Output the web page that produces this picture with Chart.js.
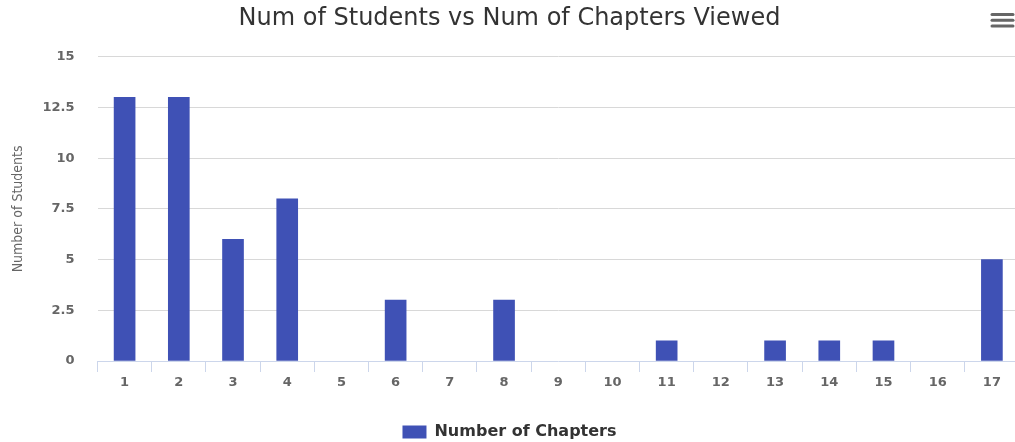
<!DOCTYPE html>
<html>
<head>
<meta charset="utf-8">
<script src="https://cdn.jsdelivr.net/npm/chart.js@4"></script>
<style>
  html, body { margin: 0; padding: 0; background: #fff; overflow: hidden; }
  #wrap { position: relative; width: 1019px; height: 442px; }
</style>
</head>
<body>
<div id="wrap"><canvas id="chaptersChart"></canvas></div>
<script>
const chapters = ["1", "2", "3", "4", "5", "6", "7", "8", "9", "10", "11", "12", "13", "14", "15", "16", "17"];
const students = [13, 13, 6, 8, 0, 3, 0, 3, 0, 0, 1, 0, 1, 1, 1, 0, 5];
const seriesName = "Number of Chapters";
const barColor = "#3f51b5";

// little menu icon in the top right corner
const menuIcon = {
    id: "menuIcon",
    afterDraw(chart) {
        const ctx = chart.ctx;
        ctx.save();
        ctx.strokeStyle = "#666";
        ctx.lineWidth = 3;
        ctx.lineCap = "round";
        [14.5, 20.3, 26].forEach(y => {
            ctx.beginPath();
            ctx.moveTo(992, y);
            ctx.lineTo(1013, y);
            ctx.stroke();
        });
        ctx.restore();
    }
};

const tickFont = { family: '"DejaVu Sans", sans-serif', size: 13, weight: "bold" };

new Chart(document.getElementById("chaptersChart"), {
    type: "bar",
    data: {
        labels: chapters,
        datasets: [{
            label: seriesName,
            data: students,
            // zero bars are not drawn at all
            backgroundColor: ctx => ctx.raw === 0 ? "rgba(0,0,0,0)" : barColor,
            borderWidth: 0,
            barThickness: 21
        }]
    },
    options: {
        responsive: true,
        maintainAspectRatio: false,
        animation: false,
        layout: { padding: { left: 0, right: 0, top: 0, bottom: -8 } },
        plugins: {
            title: {
                display: true,
                text: "Num of Students vs Num of Chapters Viewed",
                color: "#333",
                font: { family: '"DejaVu Sans", sans-serif', size: 24, weight: "normal" },
                padding: { top: 4, bottom: 24 }
            },
            legend: {
                position: "bottom",
                labels: {
                    boxWidth: 24,
                    boxHeight: 13,
                    padding: 0,
                    color: "#333",
                    generateLabels: chart => [{
                        text: seriesName,
                        fillStyle: barColor,
                        strokeStyle: barColor,
                        fontColor: "#333",
                        lineWidth: 0,
                        datasetIndex: 0
                    }],
                    font: { family: '"DejaVu Sans", sans-serif', size: 16, weight: "bold" }
                }
            },
            tooltip: { enabled: false }
        },
        scales: {
            x: {
                afterFit(scale) { scale.height = 63; },
                grid: {
                    offset: true,
                    drawOnChartArea: false,
                    drawTicks: true,
                    tickLength: 11,
                    color: "#ccd6eb"
                },
                border: { color: "#ccd6eb", width: 1 },
                ticks: {
                    padding: 3,
                    color: "#666",
                    font: tickFont
                }
            },
            y: {
                min: 0,
                max: 15,
                afterFit(scale) { scale.width = 97.5; },
                grid: {
                    drawTicks: false,
                    color: ctx => ctx.tick && ctx.tick.value === 0 ? "rgba(0,0,0,0)" : "#d8d8d8"
                },
                border: { display: false },
                ticks: {
                    stepSize: 2.5,
                    padding: 23,
                    color: "#666",
                    font: tickFont
                },
                title: {
                    display: true,
                    text: "Number of Students",
                    color: "#666",
                    font: { family: '"Liberation Sans Narrow", "DejaVu Sans Condensed", sans-serif', size: 14 },
                    padding: { top: 10, bottom: 0 }
                }
            }
        }
    },
    plugins: [menuIcon]
});
</script>
</body>
</html>
